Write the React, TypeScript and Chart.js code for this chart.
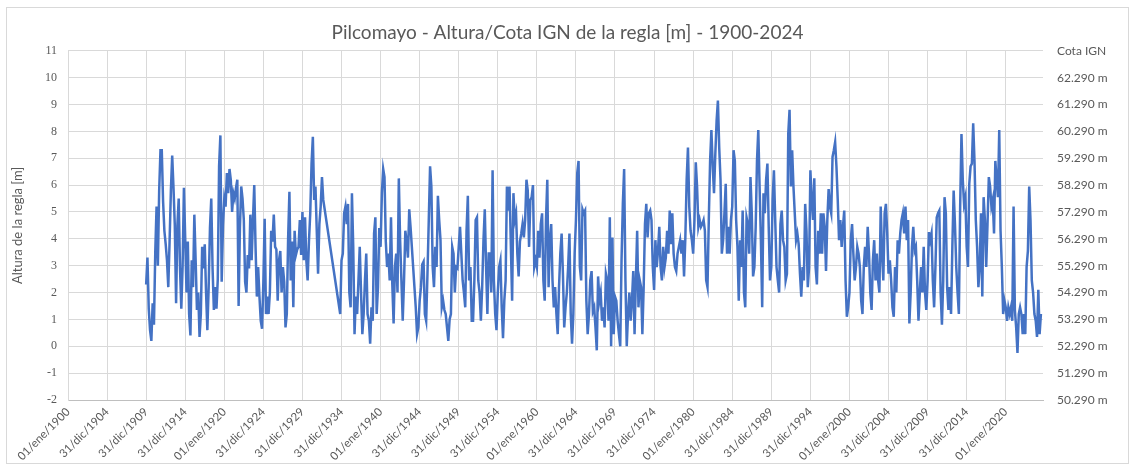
import React, { useEffect, useRef } from "react";
import { Chart, registerables } from "chart.js";

Chart.register(...registerables);

const TITLE = "Pilcomayo - Altura/Cota IGN de la regla [m] - 1900-2024";
const Y_TITLE = "Altura de la regla [m]";
const RIGHT_TITLE = "Cota IGN";

// x-axis tick labels (one every 1826 days, starting 01/ene/1900)
const tickLabels = [
  "01/ene/1900", "31/dic/1904", "31/dic/1909", "31/dic/1914", "01/ene/1920",
  "31/dic/1924", "31/dic/1929", "31/dic/1934", "01/ene/1940", "31/dic/1944",
  "31/dic/1949", "31/dic/1954", "01/ene/1960", "31/dic/1964", "31/dic/1969",
  "31/dic/1974", "01/ene/1980", "31/dic/1984", "31/dic/1989", "31/dic/1994",
  "01/ene/2000", "31/dic/2004", "31/dic/2009", "31/dic/2014", "01/ene/2020",
];
const TICK_STEP_DAYS = 1826;
const AXIS_END_DAYS = 45570;

// Water level (m), 6 readings per year (bimonthly) starting January 1910
const SERIES_START_YEAR = 1910;
const SAMPLES_PER_YEAR = 6;

const lv1910s = [
  2.3, 3.3, 1.4, 0.6, 0.2, 1.6,
  0.8, 3.5, 5.2, 3.0, 5.8, 7.3,
  7.3, 5.4, 4.3, 3.8, 3.2, 2.2,
  3.9, 5.8, 7.1, 5.9, 4.5, 1.6,
  4.5, 5.5, 2.9, 1.4, 3.0, 5.9,
  4.0, 2.0, 3.9, 1.2, 0.4, 3.2,
  2.2, 4.9, 3.2, 1.35, 2.0, 0.35,
  1.2, 3.7, 2.9, 3.8, 2.0, 0.6,
  2.2, 4.4, 5.5, 2.9, 1.35, 2.2,
  1.4, 2.5, 6.7, 7.85, 2.4, 4.5,
];
const lv1920s = [
  5.5, 5.2, 6.45, 5.7, 6.6, 6.2,
  5.0, 5.7, 5.5, 5.9, 6.2, 1.5,
  4.4, 5.95, 5.5, 4.7, 2.4, 2.0,
  3.4, 2.9, 4.9, 3.2, 4.7, 6.0,
  3.7, 1.85, 2.95, 1.85, 0.95, 0.65,
  2.4, 4.75, 1.2, 1.85, 1.2, 2.0,
  4.3, 3.9, 4.9, 3.7, 3.6, 1.7,
  3.2, 3.55, 2.0, 2.95, 2.4, 0.7,
  1.2, 4.0, 5.75, 2.45, 3.9, 1.45,
  4.3, 3.4, 3.6, 3.7, 4.7, 3.4,
];
const lv1930s = [
  5.0, 3.2, 4.8, 3.2, 2.45, 3.9,
  4.95, 6.8, 7.8, 5.45, 5.95, 4.3,
  2.7, 4.55, 5.2, 6.3, 5.45, null,
  null, null, null, null, null, null,
  null, null, null, null, null, 1.2,
  3.2, 3.45, 4.95, 5.2, 4.55, 5.3,
  2.0, 1.45, 5.7, 3.7, 0.45, 1.85,
  1.2, 2.45, 3.7, 2.0, 0.45, 1.2,
  2.45, 3.45, 1.2, 0.95, 0.1, 1.45,
  0.95, 4.2, 4.8, 1.2, 2.2, 4.4,
];
const lv1940s = [
  3.7, 5.7, 6.6, 6.3, 3.9, 2.95,
  3.45, 2.45, 4.8, 2.3, 0.85, 2.95,
  3.45, 2.0, 6.25, 3.95, 2.45, 0.95,
  2.45, 4.3, 3.9, 3.3, 5.1, 4.45,
  3.7, 2.95, 2.2, 1.45, 0.45, 0.7,
  1.7, 2.2, 3.05, 3.15, 1.2, 0.95,
  2.7, 4.7, 6.7, 5.95, 2.95, 2.2,
  3.7, 2.95, 5.6, 4.7, 3.95, 1.45,
  1.7, 1.35, 1.2, 0.7, 0.2, 1.0,
  1.2, 3.7, 3.45, 2.0, 2.95, 2.9,
];
const lv1950s = [
  3.7, 4.45, 3.45, 2.45, 2.0, 1.45,
  4.3, 5.6, 2.45, 2.95, 0.95, 0.95,
  2.45, 4.7, 4.8, 2.45, 2.0, 0.95,
  2.2, 3.95, 5.1, 2.95, 1.2, 3.45,
  3.45, 2.0, 6.55, 2.45, 1.2, 0.6,
  2.0, 2.95, 3.2, 1.45, 0.3, 1.7,
  2.45, 5.95, 5.05, 5.95, 3.8, 1.7,
  5.7, 4.7, 4.95, 3.45, 2.6, 3.9,
  4.2, 4.55, 4.05, 4.7, 6.2, 5.8,
  3.7, 5.45, 5.55, 6.0, 2.95, 3.2,
];
const lv1960s = [
  2.95, 4.3, 3.3, 4.55, 4.95, 2.45,
  1.7, 4.7, 6.2, 2.2, 3.95, 4.55,
  2.45, 1.45, 2.2, 1.2, 0.45, 2.2,
  3.45, 4.2, 2.7, 0.7, 1.45, 2.0,
  2.95, 4.2, 1.2, 0.1, 1.2, 3.45,
  4.7, 6.45, 6.9, 2.95, 2.45, 5.1,
  4.95, 5.05, 1.7, 0.45, 1.2, 2.45,
  2.8, 1.3, 1.45, 0.7, -0.15, 2.6,
  1.7, 2.0, 0.95, 1.45, 0.7, 2.7,
  2.45, 0.95, 4.8, 0.0, 4.05, 0.45,
];
const lv1970s = [
  1.85, 1.7, 0.95, 0.45, 0.0, 3.2,
  5.3, 6.6, 2.45, 0.0, 1.2, 2.0,
  0.95, 1.7, 2.8, 0.45, 2.45, 4.3,
  1.45, 2.45, 2.2, 0.45, 2.2, 4.55,
  5.3, 4.05, 4.95, 5.05, 4.7, 2.95,
  2.1, 3.95, 2.95, 3.55, 4.45, 2.95,
  2.45, 3.7, 2.95, 3.3, 4.3, 3.45,
  5.05, 3.8, 4.95, 3.45, 2.95, 2.8,
  3.45, 3.7, 3.95, 3.45, 3.95, 2.6,
  4.05, 6.2, 7.4, 5.2, 4.3, 3.95,
];
const lv1980s = [
  3.45, 4.7, 6.85, 5.95, 4.45, 4.7,
  4.45, 4.55, 4.7, 4.3, 2.45, 2.2,
  4.7, 6.9, 8.05, 6.7, 5.7, 7.15,
  8.4, 9.15, 7.4, 6.2, 3.45, 3.95,
  4.95, 6.05, 3.45, 4.45, 3.45, 4.7,
  5.2, 7.3, 6.9, 4.7, 3.7, 1.7,
  3.95, 2.95, 5.05, 2.0, 1.45, 4.8,
  4.55, 3.45, 6.3, 4.95, 2.6, 2.95,
  4.45, 6.9, 8.05, 5.95, 3.95, 1.45,
  5.7, 4.95, 6.2, 6.8, 4.45, 2.45,
];
const lv1990s = [
  2.95, 5.45, 6.55, 4.7, 2.95, 2.45,
  2.0, 4.55, 5.05, 3.95, 3.7, 2.45,
  2.7, 7.9, 8.8, 5.95, 7.3, 5.95,
  4.95, 3.95, 4.2, 3.8, 2.7, 1.85,
  2.95, 2.45, 5.3, 4.3, 2.2, 2.95,
  6.55, 5.45, 4.7, 6.25, 2.95, 2.3,
  4.3, 3.45, 4.95, 3.45, 4.95, 4.45,
  2.8, 4.7, 5.85, 5.2, 4.95, 7.05,
  7.3, 7.6, 6.7, 5.45, 3.95, 4.7,
  3.7, 4.45, 5.05, 2.45, 1.1, 1.45,
];
const lv2000s = [
  2.0, 3.95, 4.55, 3.45, 2.45, 2.95,
  3.7, 3.45, 2.95, 1.7, 1.2, 2.95,
  3.7, 2.95, 4.45, 3.45, 2.0, 1.35,
  3.2, 3.95, 2.45, 3.45, 2.45, 2.0,
  5.2, 3.45, 2.45, 4.95, 5.3, 4.2,
  2.7, 3.2, 2.45, 1.45, 1.1, 2.95,
  2.0, 3.95, 3.45, 4.2, 4.7, 4.95,
  4.2, 5.2, 3.95, 4.7, 0.85, 2.0,
  3.7, 4.45, 3.55, 3.7, 2.45, 0.95,
  2.0, 2.95, 2.0, 3.7, 2.0, 1.35,
];
const lv2010s = [
  2.45, 4.25, 3.95, 4.2, 2.45, 1.45,
  2.95, 4.8, 4.95, 5.05, 2.0, 0.8,
  2.45, 5.55, 4.95, 2.2, 1.35, 2.2,
  1.2, 3.7, 5.8, 4.55, 2.95, 2.0,
  1.2, 5.2, 7.9, 6.2, 5.3, 5.55,
  3.7, 2.95, 6.05, 6.7, 6.8, 8.3,
  6.9, 4.7, 3.7, 2.2, 2.95, 4.95,
  1.85, 5.55, 4.7, 2.95, 4.55, 6.3,
  5.95, 5.2, 5.45, 4.2, 6.9, 6.2,
  5.55, 8.05, 4.3, 2.95, 1.2, 1.7,
];
const lv2020s = [
  1.45, 0.95, 1.45, 1.2, 1.45, 0.95,
  5.2, 1.35, 0.7, -0.25, 1.2, 1.45,
  1.2, 0.45, 1.2, 0.45, 2.95, 3.55,
  5.95, 4.7, 2.45, 2.0, 1.2, 0.95,
  0.35, 2.1, 0.45, 1.2,
];

// Right axis: Cota IGN = reading + reference elevation
const COTA_ZERO = 52.29;

const GREY_TEXT = "#595959";
const SANS = "Lato, 'Open Sans', sans-serif";

export default function App() {
  const ref = useRef<HTMLCanvasElement | null>(null);

  useEffect(() => {
    const levels: (number | null)[] = [
      ...lv1910s, ...lv1920s, ...lv1930s, ...lv1940s, ...lv1950s, ...lv1960s,
      ...lv1970s, ...lv1980s, ...lv1990s, ...lv2000s, ...lv2010s, ...lv2020s,
    ];
    const points = levels.map((v, i) => ({
      x: (SERIES_START_YEAR - 1900 + i / SAMPLES_PER_YEAR) * 365.2425,
      y: v,
    }));

    const chart = new Chart(ref.current as HTMLCanvasElement, {
      type: "line",
      data: {
        datasets: [
          {
            data: points as any,
            borderColor: "#4472C4",
            borderWidth: 2.5,
            pointRadius: 0,
            tension: 0,
            spanGaps: true,
            yAxisID: "y",
            xAxisID: "x",
          },
        ],
      },
      options: {
        animation: false,
        responsive: false,
        maintainAspectRatio: false,
        layout: { padding: { left: 0, right: 0, top: 0, bottom: 0 } },
        plugins: {
          legend: { display: false },
          tooltip: { enabled: false },
          title: {
            display: true,
            text: TITLE,
            color: GREY_TEXT,
            font: { family: SANS, size: 19, weight: "normal" },
            padding: { top: 21, bottom: 7 },
          },
        },
        scales: {
          x: {
            type: "linear",
            min: 0,
            max: AXIS_END_DAYS,
            afterBuildTicks: (scale: any) => {
              scale.ticks = tickLabels.map((_, i) => ({ value: i * TICK_STEP_DAYS }));
            },
            afterFit: (scale: any) => {
              scale.height = 70;
            },
            ticks: {
              autoSkip: false,
              minRotation: 45,
              maxRotation: 45,
              padding: 5,
              color: GREY_TEXT,
              font: { family: SANS, size: 11.5 },
              callback: (_v: any, i: number) => tickLabels[i],
            },
            grid: { color: "#d9d9d9", drawTicks: false, lineWidth: 1 },
            border: { color: "#bfbfbf", width: 1 },
          },
          y: {
            position: "left",
            min: -2,
            max: 11,
            afterFit: (scale: any) => {
              scale.width = 68;
            },
            ticks: {
              stepSize: 1,
              padding: 11,
              color: GREY_TEXT,
              font: { family: "'Liberation Serif', 'DejaVu Serif', serif", size: 12 },
            },
            title: {
              display: true,
              text: Y_TITLE,
              color: GREY_TEXT,
              font: { family: SANS, size: 13 },
              padding: { top: 10, bottom: 0 },
            },
            grid: { color: "#d9d9d9", drawTicks: false, lineWidth: 1 },
            border: { color: "#d9d9d9", width: 1 },
          },
          y2: {
            position: "right",
            min: -2,
            max: 11,
            afterFit: (scale: any) => {
              scale.width = 92;
            },
            ticks: {
              stepSize: 1,
              padding: 14,
              color: GREY_TEXT,
              font: { family: SANS, size: 12 },
              callback: (v: any) =>
                Math.abs(Number(v) - 11) < 1e-6
                  ? RIGHT_TITLE
                  : (Number(v) + COTA_ZERO).toFixed(3) + " m",
            },
            grid: { display: false, drawTicks: false },
            border: { display: false },
          },
        },
      },
    } as any);

    return () => chart.destroy();
  }, []);

  return (
    <div
      style={{
        position: "absolute",
        left: 0,
        top: 0,
        width: 1135,
        height: 470,
        background: "#ffffff",
      }}
    >
      <canvas
        ref={ref}
        width={1135}
        height={470}
        style={{ position: "absolute", left: 0, top: 0, width: 1135, height: 470 }}
      />
      <div
        style={{
          position: "absolute",
          left: 6,
          top: 7,
          width: 1121,
          height: 455,
          border: "1px solid #d9d9d9",
          pointerEvents: "none",
        }}
      />
    </div>
  );
}
